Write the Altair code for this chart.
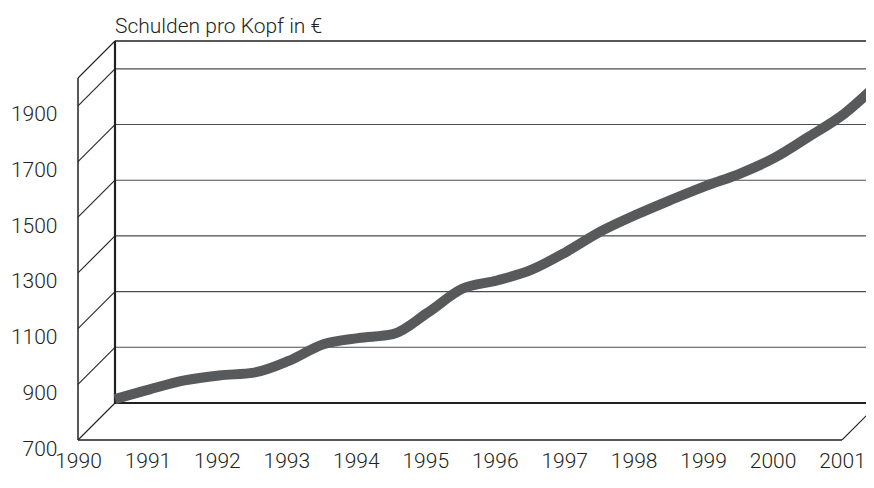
import altair as alt
import pandas as pd

# ---- data ----
years = [1990, 1990.5, 1991, 1991.5, 1992, 1992.5, 1993, 1993.5, 1994, 1994.5,
         1995, 1995.5, 1996, 1996.5, 1997, 1997.5, 1998, 1998.5, 1999, 1999.5,
         2000, 2000.5, 2001]
debt = [714, 749, 781, 799, 809, 851, 911, 933, 947, 1024,
        1110, 1140, 1179, 1243, 1317, 1376, 1429, 1479, 1524, 1581,
        1658, 1739, 1850]
x_labels = list(range(1990, 2002))
y_labels = [700, 900, 1100, 1300, 1500, 1700, 1900]
grid_levels = [900, 1100, 1300, 1500, 1700, 1900]
diag_levels = [700, 900, 1100, 1300, 1500, 1700, 1900, 2000]
wall_top = 2000
floor_level = 700
first_year = 1990
last_year = 2001
title_text = ["Schulden pro Kopf in €"]

# ---- layout / style ----
DEPTH = 37
PAD_L, PAD_T = 70, 30
W = 788                      # plot width  (svg 70 .. 858)
H = 402                      # plot height (svg 30 .. 432)
YEAR_PX = 764 / 11           # pixels per year
X_MAX = first_year + W / YEAR_PX
UNIT_PX = 362 / 1300         # pixels per euro
Y_MAX = floor_level + H / UNIT_PX
FONT = "Roboto"
TXT = "#231f20"
DARK = "#231f20"
GRID = "#4d4d4f"
LINE = "#58595b"

xs = alt.Scale(domain=[first_year, X_MAX], nice=False, zero=False)
ys = alt.Scale(domain=[floor_level, Y_MAX], nice=False, zero=False)

x_axis = alt.Axis(values=x_labels, format="d", domain=False, ticks=False, tickSize=0,
                  grid=False, labelFont=FONT, labelFontSize=21, labelFontWeight=300,
                  labelColor=TXT, labelBaseline="top", labelPadding=10,
                  labelFlush=False, labelOverlap=False, title=None)
y_axis = alt.Axis(values=y_labels, format="d", domain=False, ticks=False, tickSize=0,
                  grid=False, labelFont=FONT, labelFontSize=21, labelFontWeight=300,
                  labelColor=TXT, labelBaseline="top", labelAlign="right",
                  labelPadding=21, labelOffset=-2, labelFlush=False,
                  labelOverlap=False, title=None)


def X(f):
    return alt.X(f, type="quantitative", scale=xs, axis=x_axis)


def Y(f):
    return alt.Y(f, type="quantitative", scale=ys, axis=y_axis)


grid_df = pd.DataFrame({"y": grid_levels, "x": first_year, "xe": X_MAX})
top_df = pd.DataFrame({"y": [wall_top], "x": [first_year], "xe": [X_MAX]})
floor_back_df = pd.DataFrame({"y": [floor_level], "x": [first_year], "xe": [X_MAX]})
left_df = pd.DataFrame({"x": [first_year], "y": [floor_level], "ye": [wall_top]})
diag_df = pd.DataFrame({"x": first_year, "y": diag_levels})
front_floor_df = pd.DataFrame({"x": [first_year], "xe": [last_year], "y": [floor_level]})
right_diag_df = pd.DataFrame({"x": [last_year], "y": [floor_level]})
line_df = pd.DataFrame({"year": years, "debt": debt})
title_df = pd.DataFrame({"x": [first_year], "y": [wall_top], "t": title_text})

back_grid = alt.Chart(grid_df).mark_rule(
    color=GRID, strokeWidth=1.1, xOffset=DEPTH, yOffset=-DEPTH, clip=True
).encode(x=X("x"), x2="xe:Q", y=Y("y"))

back_top = alt.Chart(top_df).mark_rule(
    color=DARK, strokeWidth=1.5, xOffset=DEPTH, yOffset=-DEPTH, clip=True
).encode(x=X("x"), x2="xe:Q", y=Y("y"))

back_floor = alt.Chart(floor_back_df).mark_rule(
    color=DARK, strokeWidth=2.2, xOffset=DEPTH, yOffset=-DEPTH, clip=True
).encode(x=X("x"), x2="xe:Q", y=Y("y"))

back_left = alt.Chart(left_df).mark_rule(
    color=DARK, strokeWidth=2.2, xOffset=DEPTH, yOffset=-DEPTH, y2Offset=-DEPTH, clip=True
).encode(x=X("x"), y=Y("y"), y2="ye:Q")

debt_line = alt.Chart(line_df).mark_line(
    color=LINE, strokeWidth=10, interpolate="monotone", strokeCap="butt",
    xOffset=DEPTH, yOffset=-DEPTH, clip=True
).encode(x=X("year"), y=Y("debt"))

front_left = alt.Chart(left_df).mark_rule(
    color=DARK, strokeWidth=1.5
).encode(x=X("x"), y=Y("y"), y2="ye:Q")

diagonals = alt.Chart(diag_df).mark_rule(
    color=DARK, strokeWidth=1.1, x2Offset=DEPTH, y2Offset=-DEPTH
).encode(x=X("x"), x2="x:Q", y=Y("y"), y2="y:Q")

front_floor = alt.Chart(front_floor_df).mark_rule(
    color=DARK, strokeWidth=1.5
).encode(x=X("x"), x2="xe:Q", y=Y("y"))

right_diag = alt.Chart(right_diag_df).mark_rule(
    color=DARK, strokeWidth=1.1, x2Offset=DEPTH, y2Offset=-DEPTH, clip=True
).encode(x=X("x"), x2="x:Q", y=Y("y"), y2="y:Q")

title = alt.Chart(title_df).mark_text(
    align="left", baseline="alphabetic", dx=DEPTH, dy=-(DEPTH + 8),
    font=FONT, fontSize=21, fontWeight=300, color=TXT
).encode(x=X("x"), y=Y("y"), text="t:N")

chart = alt.layer(
    back_grid, back_top, back_floor, back_left, debt_line,
    front_left, diagonals, front_floor, right_diag, title
).properties(
    width=W, height=H,
    padding={"left": PAD_L, "top": PAD_T, "right": 0, "bottom": 32},
    autosize="none",
    background="white",
).configure_view(stroke=None)

chart.save("out.html", embed_options={"renderer": "svg", "actions": False})
